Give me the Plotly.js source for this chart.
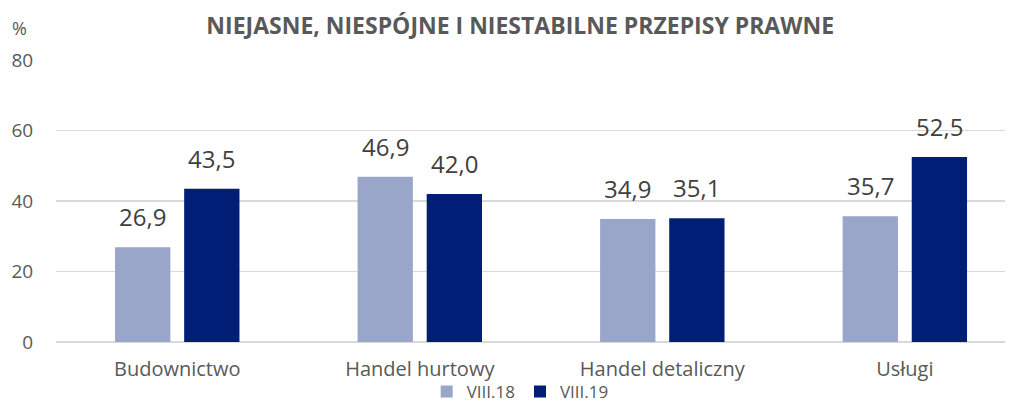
<!DOCTYPE html>
<html><head><meta charset="utf-8">
<script src="https://cdn.plot.ly/plotly-3.0.1.min.js"></script>
<style>body{margin:0;background:#fff}#c{width:1016px;height:404px}</style>
</head><body><div id="c"></div>
<script>
const categories = ['Budownictwo', 'Handel hurtowy', 'Handel detaliczny', 'Usługi'];
const seriesNames = ['VIII.18', 'VIII.19'];
const values2018 = [26.9, 46.9, 34.9, 35.7];
const values2019 = [43.5, 42.0, 35.1, 52.5];
const yTicks = [0, 20, 40, 60, 80];

const FONT = '"Open Sans", Roboto, sans-serif';
const BARGAP = 0.43;
const mk = (name, y, color) => ({
  type: 'bar', name: name, x: categories, y: y,
  marker: {color: color}, hoverinfo: 'skip'
});
const data = [
  mk(seriesNames[0], values2018, '#9aa6c9'),
  mk(seriesNames[1], values2019, '#001e76')
];
const half = (1 - BARGAP) / 4;
const annotations = [];
[values2018, values2019].forEach((vals, s) => {
  vals.forEach((v, i) => {
    annotations.push({x: i + (s === 0 ? -half : half), y: v, xref: 'x', yref: 'y',
      text: v.toFixed(1).replace('.', ','), showarrow: false, yanchor: 'bottom', yshift: 12,
      font: {size: 24, color: '#404040', family: FONT}});
  });
});
annotations.push({text: '%', xref: 'paper', yref: 'paper', x: -0.038, y: 1.115, xanchor: 'center', yanchor: 'middle',
                 showarrow: false, font: {size: 18, color: '#595959'}});
const layout = {
  width: 1016, height: 404,
  margin: {l: 56, r: 11, t: 60, b: 62},
  paper_bgcolor: '#fff', plot_bgcolor: '#fff',
  font: {family: FONT, color: '#595959', size: 18},
  title: {text: '<b>NIEJASNE, NIESPÓJNE I NIESTABILNE PRZEPISY PRAWNE</b>',
          font: {size: 23, color: '#595959', family: FONT},
          x: 0.512, xanchor: 'center', y: 0.935, yanchor: 'middle'},
  barmode: 'group', bargap: BARGAP, bargroupgap: 0.2,
  xaxis: {type: 'category', range: [-0.5, 3.413], showgrid: false, showline: false,
          ticks: 'outside', ticklen: 9, tickcolor: 'rgba(0,0,0,0)',
          tickfont: {size: 20, color: '#595959'}, fixedrange: true},
  yaxis: {range: [0, 80], tickvals: yTicks, showgrid: true, gridcolor: '#d9d9d9', gridwidth: 1.5,
          zeroline: true, zerolinecolor: '#d9d9d9', zerolinewidth: 1.5,
          ticks: 'outside', ticklen: 18, tickcolor: 'rgba(0,0,0,0)',
          tickfont: {size: 19, color: '#595959'}, fixedrange: true},
  showlegend: true,
  legend: {orientation: 'h', xref: 'container', yref: 'container', x: 0.512, xanchor: 'center', y: 0.03, yanchor: 'middle',
           bgcolor: 'rgba(0,0,0,0)', font: {size: 17, color: '#595959'}, traceorder: 'normal', tracegroupgap: 0},
  annotations: annotations
};
Plotly.newPlot('c', data, layout, {displayModeBar: false, staticPlot: true});
</script></body></html>
